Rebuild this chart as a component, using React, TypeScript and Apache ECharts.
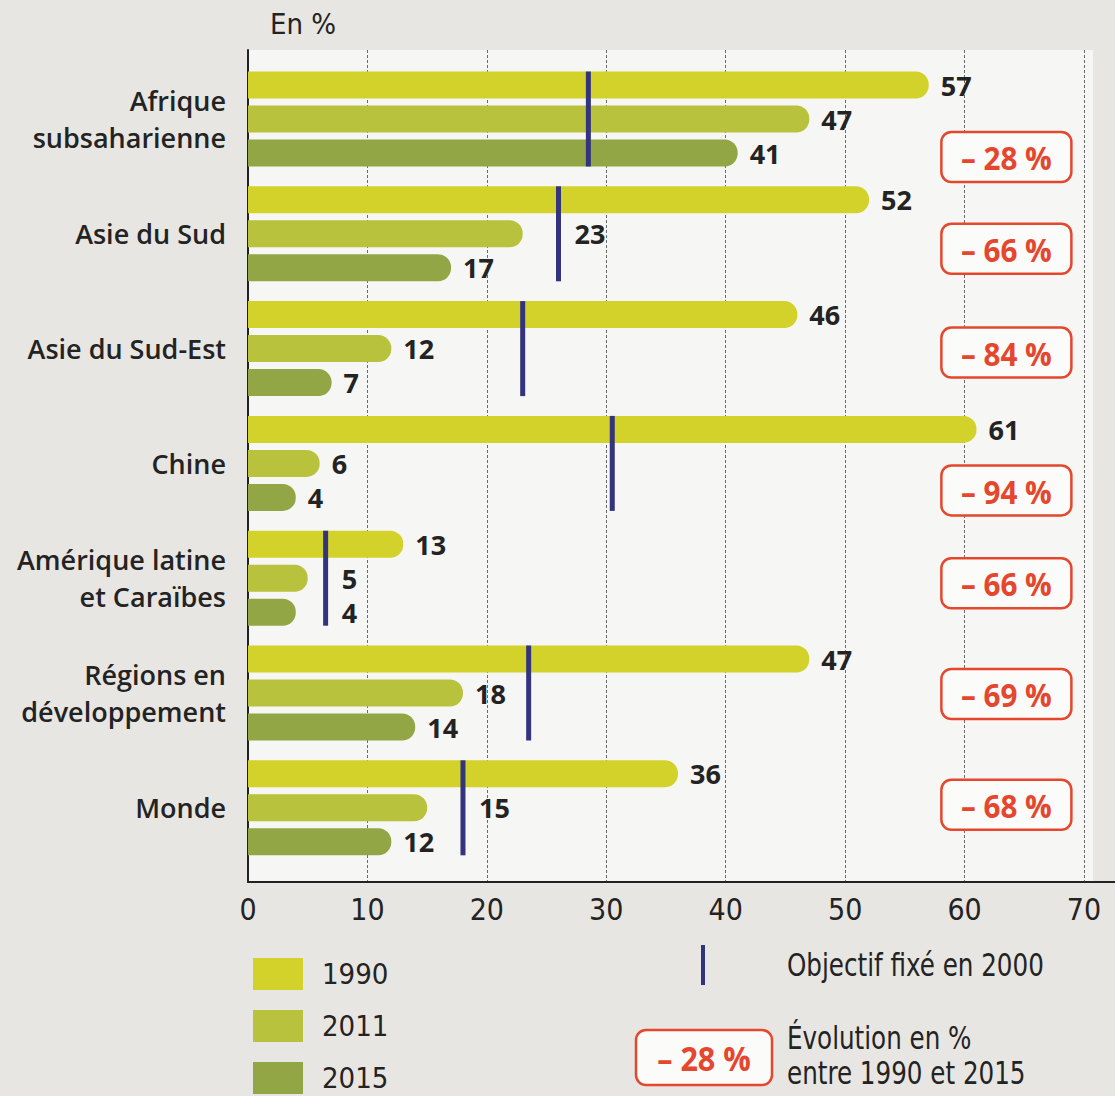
import React, { useEffect, useRef } from "react";
import * as echarts from "echarts";

// ---------- data ----------
const CATEGORIES = [
  "Afrique\nsubsaharienne",
  "Asie du Sud",
  "Asie du Sud-Est",
  "Chine",
  "Amérique latine\net Caraïbes",
  "Régions en\ndéveloppement",
  "Monde",
];
const SERIES_NAMES = ["1990", "2011", "2015"];
const V1990 = [57, 52, 46, 61, 13, 47, 36];
const V2011 = [47, 23, 12, 6, 5, 18, 15];
const V2015 = [41, 17, 7, 4, 4, 14, 12];
const OBJECTIVE_2000 = [28.5, 26, 23, 30.5, 6.5, 23.5, 18];
const EVOLUTION = [-28, -66, -84, -94, -66, -69, -68];
const X_MIN = 0;
const X_MAX = 70;
const X_INTERVAL = 10;

// ---------- layout / style ----------
const W = 1115;
const H = 1096;
const GRID_LEFT = 248;
const GRID_RIGHT = 31;
const AXIS_Y = 882;
const PLOT_W = W - GRID_LEFT - GRID_RIGHT;
const PX_PER_UNIT = PLOT_W / (X_MAX - X_MIN);
const BAR_W = 27;
const BAR_GAP_PX = 7;
const GROUP_H = 3 * BAR_W + 2 * BAR_GAP_PX;
const LABEL_DIST = 12;
const BOX_X_VALUE = 63.5;
const BOX_NUDGE = [38, 15, 4, 27, 5, 1, -3];

const COLORS = ["#d2d22a", "#b8c23d", "#92a646"];
const NAVY = "#34347c";
const RED = "#e4472e";
const TEXT = "#232323";
const NARROW = '"Liberation Sans Narrow", "DejaVu Sans Condensed", "Open Sans", sans-serif';
const SANS = '"Open Sans", "Noto Sans", sans-serif';
const NARROW_SCALE = 0.855;

const fmtEvo = (v: number) => `${v < 0 ? "– " : "+ "}${Math.abs(v)} %`;

function barData(values: number[]) {
  return values.map((v, i) => {
    const obj = OBJECTIVE_2000[i];
    const gapPx = (obj - v) * PX_PER_UNIT;
    if (obj > v && gapPx < 45) {
      return { value: v, label: { offset: [gapPx + 4, 0] } };
    }
    return { value: v };
  });
}

export default function App() {
  const ref = useRef<HTMLDivElement>(null);

  useEffect(() => {
    if (!ref.current) return;
    const chart = echarts.init(ref.current, undefined, { renderer: "svg", width: W, height: H });

    const valueSets = [V1990, V2011, V2015];

    const barSeries = SERIES_NAMES.map((name, k) => ({
      name,
      type: "bar",
      xAxisIndex: 0,
      yAxisIndex: 0,
      data: barData(valueSets[k]),
      barWidth: BAR_W,
      barGap: `${(BAR_GAP_PX / BAR_W) * 100}%`,
      itemStyle: { color: COLORS[k], borderRadius: [0, 13, 13, 0] },
      label: {
        show: true,
        position: "right",
        distance: LABEL_DIST,
        color: TEXT,
        fontFamily: SANS,
        fontWeight: 700,
        fontSize: 27,
      },
      z: 2,
    }));

    const narrowText = (text: string, x: number, y: number, size = 32) => ({
      type: "text",
      x,
      y,
      scaleX: NARROW_SCALE,
      style: { text, fill: TEXT, fontFamily: NARROW, fontSize: size, verticalAlign: "middle" },
    });

    const option: any = {
      animation: false,
      backgroundColor: "transparent",
      grid: [
        { left: GRID_LEFT, right: GRID_RIGHT, top: 61.6, height: 803.6 },
        { left: GRID_LEFT, right: GRID_RIGHT, top: 50, bottom: H - AXIS_Y },
      ],
      xAxis: [
        {
          gridIndex: 0,
          type: "value",
          min: X_MIN,
          max: X_MAX,
          interval: X_INTERVAL,
          show: false,
          splitLine: { show: false },
        },
        {
          gridIndex: 1,
          type: "value",
          min: X_MIN,
          max: X_MAX,
          interval: X_INTERVAL,
          axisLine: { show: true, onZero: false, lineStyle: { color: "#222", width: 2 } },
          axisTick: { show: false },
          axisLabel: { color: TEXT, fontSize: 30, fontFamily: NARROW, margin: 12 },
          splitLine: { show: true, lineStyle: { color: "#6a6a6a", width: 1, type: [3, 2] } },
        },
      ],
      yAxis: [
        {
          gridIndex: 0,
          type: "category",
          inverse: true,
          data: CATEGORIES,
          axisLine: { show: false },
          axisTick: { show: false },
          splitLine: { show: false },
          axisLabel: {
            color: TEXT,
            fontFamily: SANS,
            fontWeight: 600,
            fontSize: 27,
            lineHeight: 37,
            margin: 22,
            align: "right",
          },
        },
        {
          gridIndex: 1,
          type: "value",
          min: 0,
          max: 1,
          name: "En %",
          nameLocation: "end",
          nameGap: 12,
          nameTextStyle: {
            color: TEXT,
            fontFamily: NARROW,
            fontSize: 29,
            align: "left",
            padding: [0, 0, 0, 22],
          },
          axisLine: { show: true, onZero: false, lineStyle: { color: "#222", width: 2 } },
          axisTick: { show: false },
          axisLabel: { show: false },
          splitLine: { show: false },
        },
      ],
      legend: {
        data: SERIES_NAMES,
        orient: "vertical",
        left: 253,
        top: 958,
        itemWidth: 50,
        itemHeight: 32,
        itemGap: 20,
        icon: "rect",
        selectedMode: false,
        padding: 0,
        textStyle: { color: TEXT, fontFamily: NARROW, fontSize: 29, padding: [0, 0, 0, 14] },
      },
      series: [
        ...barSeries,
        {
          name: "Objectif fixé en 2000",
          type: "custom",
          xAxisIndex: 0,
          yAxisIndex: 0,
          z: 5,
          data: OBJECTIVE_2000.map((o, i) => [o, i]),
          encode: { x: 0, y: 1 },
          renderItem: (_p: any, api: any) => {
            const c = api.coord([api.value(0), api.value(1)]);
            return {
              type: "rect",
              shape: { x: c[0] - 2.5, y: c[1] - GROUP_H / 2, width: 5, height: GROUP_H },
              style: { fill: NAVY },
            };
          },
        },
        {
          name: "Évolution",
          type: "custom",
          xAxisIndex: 0,
          yAxisIndex: 0,
          z: 6,
          data: EVOLUTION.map((e, i) => [BOX_X_VALUE, i, e]),
          encode: { x: 0, y: 1 },
          renderItem: (_p: any, api: any) => {
            const i = api.value(1);
            const c = api.coord([api.value(0), i]);
            const y = c[1] + BOX_NUDGE[i];
            return {
              type: "group",
              children: [
                {
                  type: "rect",
                  shape: { x: c[0] - 65, y: y - 25, width: 130, height: 50, r: 10 },
                  style: { fill: "#fbfbf9", stroke: RED, lineWidth: 2.5 },
                },
                {
                  type: "text",
                  x: c[0],
                  y: y,
                  scaleX: 0.9,
                  style: {
                    text: fmtEvo(api.value(2)),
                    align: "center",
                    verticalAlign: "middle",
                    fill: RED,
                    fontFamily: SANS,
                    fontWeight: 700,
                    fontSize: 33,
                  },
                },
              ],
            };
          },
        },
      ],
      graphic: [
        {
          type: "rect",
          z: -10,
          silent: true,
          shape: { x: GRID_LEFT, y: 50, width: 1093 - GRID_LEFT, height: AXIS_Y - 50 },
          style: { fill: "#f6f6f4" },
        },
        {
          type: "line",
          shape: { x1: W - GRID_RIGHT, y1: AXIS_Y, x2: W, y2: AXIS_Y },
          style: { stroke: "#222", lineWidth: 2 },
        },
        {
          type: "line",
          shape: { x1: 703, y1: 945, x2: 703, y2: 985 },
          style: { stroke: NAVY, lineWidth: 4 },
        },
        narrowText("Objectif fixé en 2000", 787, 965),
        {
          type: "rect",
          shape: { x: 636, y: 1030, width: 136, height: 55, r: 10 },
          style: { fill: "#fbfbf9", stroke: RED, lineWidth: 2.5 },
        },
        {
          type: "text",
          x: 704,
          y: 1057,
          scaleX: 0.9,
          style: {
            text: fmtEvo(EVOLUTION[0]),
            fill: RED,
            fontFamily: SANS,
            fontWeight: 700,
            fontSize: 34,
            align: "center",
            verticalAlign: "middle",
          },
        },
        narrowText("Évolution en %", 787, 1038),
        narrowText("entre 1990 et 2015", 787, 1073),
      ],
    };

    chart.setOption(option);
    return () => chart.dispose();
  }, []);

  return (
    <div
      style={{ position: "absolute", left: 0, top: 0, width: W, height: H, background: "#e8e6e2" }}
    >
      <div ref={ref} style={{ width: W, height: H }} />
    </div>
  );
}
